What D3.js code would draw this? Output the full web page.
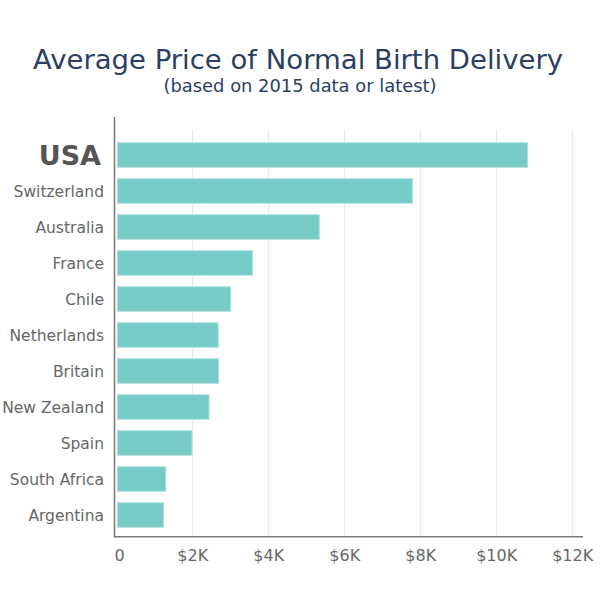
<!DOCTYPE html>
<html>
<head>
<meta charset="utf-8">
<title>Average Price of Normal Birth Delivery</title>
<script src="https://d3js.org/d3.v7.min.js"></script>
<style>
body { margin: 0; background: #fff; }
text { font-family: 'DejaVu Sans', 'Open Sans', sans-serif; }
</style>
</head>
<body>
<div id="chart"></div>
<script>
// data (USD, 2015 or latest)
var countries = ["USA", "Switzerland", "Australia", "France", "Chile", "Netherlands",
                 "Britain", "New Zealand", "Spain", "South Africa", "Argentina"];
var prices = [10808, 7780, 5330, 3570, 3000, 2670, 2680, 2430, 1980, 1290, 1230];
var ticks = [0, 2000, 4000, 6000, 8000, 10000, 12000];
var tickLabels = ["0", "$2K", "$4K", "$6K", "$8K", "$10K", "$12K"];

var W = 600, H = 599;
var teal = "#76cbc7", navy = "#2a3f62", grey = "#666";

var svg = d3.select("#chart").append("svg")
    .attr("width", W)
    .attr("height", H);

var x = d3.scaleLinear().domain([0, 12000]).range([116.7, 572.7]);
var y = d3.scaleBand().domain(countries).range([137, 533])
    .paddingInner(0.32).paddingOuter(0.16);

// fit a text element to a target width
function fit(sel, w) {
  sel.attr("textLength", w).attr("lengthAdjust", "spacingAndGlyphs");
}

svg.append("text")
    .attr("x", 298).attr("y", 68.5)
    .attr("text-anchor", "middle")
    .attr("fill", navy)
    .style("font-size", "26px")
    .text("Average Price of Normal Birth Delivery")
    .call(fit, 530);

svg.append("text")
    .attr("x", 300).attr("y", 91.5)
    .attr("text-anchor", "middle")
    .attr("fill", navy)
    .style("font-size", "17px")
    .text("(based on 2015 data or latest)")
    .call(fit, 273);

// gridlines
svg.append("g")
  .selectAll("line")
  .data(ticks.slice(1))
  .join("line")
    .attr("x1", d => x(d)).attr("x2", d => x(d))
    .attr("y1", 130).attr("y2", 536)
    .attr("stroke", "#e6e6e6")
    .attr("stroke-width", 1);

// bars
svg.append("g")
  .selectAll("rect")
  .data(countries)
  .join("rect")
    .attr("x", x(0) + 0.8)
    .attr("y", d => y(d))
    .attr("width", (d, i) => x(prices[i]) - x(0) - 0.8)
    .attr("height", y.bandwidth())
    .attr("fill", teal)
    .attr("stroke", "#a9e0dc")
    .attr("stroke-width", 1);

// category labels
svg.append("g")
  .selectAll("text")
  .data(countries)
  .join("text")
    .attr("x", d => d === "USA" ? 101 : 104)
    .attr("y", d => y(d) + y.bandwidth() / 2)
    .attr("dy", "0.36em")
    .attr("text-anchor", "end")
    .attr("fill", d => d === "USA" ? "#555" : grey)
    .style("font-size", d => d === "USA" ? "27px" : "15.5px")
    .style("font-weight", d => d === "USA" ? "bold" : "normal")
    .text(d => d);

// axes lines
var axisG = svg.append("g").attr("stroke", "#777").attr("stroke-width", 1.5);
axisG.append("line")
    .attr("x1", 114.5).attr("x2", 114.5)
    .attr("y1", 117).attr("y2", 537);
axisG.append("line")
    .attr("x1", 114).attr("x2", 583)
    .attr("y1", 536.7).attr("y2", 536.7);

// x tick labels
svg.append("g")
  .selectAll("text")
  .data(ticks)
  .join("text")
    .attr("x", d => x(d) + (d === 0 ? 3 : 0))
    .attr("y", 561)
    .attr("text-anchor", "middle")
    .attr("fill", grey)
    .style("font-size", "16px")
    .text((d, i) => tickLabels[i]);
</script>
</body>
</html>
